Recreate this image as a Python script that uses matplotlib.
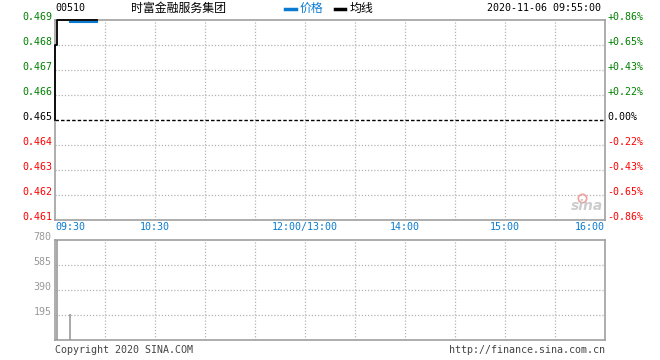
import matplotlib
matplotlib.use("Agg")
import matplotlib.pyplot as plt
import matplotlib.transforms as mtrans

plt.rcParams['font.family'] = ['DejaVu Sans Mono', 'Noto Sans CJK SC']

# data
code = "00510"
name = "时富金融服务集团"
stamp = "2020-11-06 09:55:00"
prev_close = 0.465
price_ticks = [0.461, 0.462, 0.463, 0.464, 0.465, 0.466, 0.467, 0.468, 0.469]
pct_labels = ["-0.86%", "-0.65%", "-0.43%", "-0.22%", "0.00%", "+0.22%", "+0.43%", "+0.65%", "+0.86%"]
time_ticks = [0, 60, 150, 210, 270, 330]
time_labels = ["09:30", "10:30", "12:00/13:00", "14:00", "15:00", "16:00"]
vol_ticks = [195, 390, 585, 780]

# minutes after 09:30
price_min = [9, 25]
price_val = [0.469, 0.469]
avg_min = [0, 0, 1, 1, 25]
avg_val = [0.465, 0.468, 0.468, 0.469, 0.469]
vol_min = [1, 9]
vol_val = [780, 200]

W, H = 660, 360
fig = plt.figure(figsize=(6.6, 3.6), dpi=100)
fig.patch.set_facecolor('white')

grey = '#a0a0a0'
green = '#008000'
red = '#ff0000'
blue = '#0a7bd0'
fs = 7.2

def box(x0, y0, x1, y1):
    return [x0 / W, 1 - y1 / H, (x1 - x0) / W, (y1 - y0) / H]

ax = fig.add_axes(box(55, 20, 605, 220))
ax.set_xlim(0, 330)
ax.set_ylim(0.461, 0.469)
for s in ax.spines.values():
    s.set_color(grey)
    s.set_linewidth(1.2)
ax.set_xticks([])
ax.set_yticks([])
for t in range(30, 330, 30):
    ax.axvline(t, color='#b4b4b4', lw=0.9, ls=(0, (1, 1.5)), zorder=1)
for v in price_ticks[1:-1]:
    if v == prev_close:
        ax.axhline(v, color='black', lw=1, ls=(0, (2.5, 1.5)), zorder=2)
    else:
        ax.axhline(v, color='#b4b4b4', lw=0.9, ls=(0, (1, 1.5)), zorder=1)

ax.plot(avg_min, avg_val, color='black', lw=1.3, zorder=4, clip_on=False)
down = mtrans.offset_copy(ax.transData, fig=fig, x=0, y=-1.4, units='points')
ax.plot(price_min, price_val, color=blue, lw=1.5, zorder=5, clip_on=False, transform=down)

lt = mtrans.blended_transform_factory(ax.transAxes, ax.transData)
lt = mtrans.offset_copy(lt, fig=fig, x=0, y=2.5, units='points')
for v, p in zip(price_ticks, pct_labels):
    c = green if v > prev_close else (red if v < prev_close else 'black')
    ax.text(-0.005, v, "%.3f" % v, transform=lt, ha='right', va='center', fontsize=fs, color=c)
    ax.text(1.004, v, p, transform=lt, ha='left', va='center', fontsize=fs, color=c)

for t, lab in zip(time_ticks, time_labels):
    ha = 'left' if t == 0 else ('right' if t == 330 else 'center')
    ax.text(t, -0.035, lab, transform=mtrans.blended_transform_factory(ax.transData, ax.transAxes),
            ha=ha, va='center', fontsize=fs, color=blue)

# sina watermark
ax.text(0.996, 0.07, "sina", transform=ax.transAxes, ha='right', va='center', fontsize=10,
        color='#c0c0c0', style='italic', fontweight='bold', family='DejaVu Sans', alpha=0.8)
ax.plot([0.958], [0.11], marker='o', ms=6, mfc='none', mec='#f0a0a0', mew=1.2,
        transform=ax.transAxes, zorder=1)

# volume panel
vx = fig.add_axes(box(55, 240, 605, 340))
vx.set_xlim(0, 330)
vx.set_ylim(0, 780)
for s in vx.spines.values():
    s.set_color(grey)
    s.set_linewidth(1.2)
vx.set_xticks([])
vx.set_yticks([])
for t in range(30, 330, 30):
    vx.axvline(t, color='#b4b4b4', lw=0.9, ls=(0, (1, 1.5)), zorder=1)
for v in vol_ticks[:-1]:
    vx.axhline(v, color='#b4b4b4', lw=0.9, ls=(0, (1, 1.5)), zorder=1)
vx.vlines(vol_min, 0, vol_val, color='#999999', lw=1.2, zorder=3)
vt = mtrans.blended_transform_factory(vx.transAxes, vx.transData)
vt = mtrans.offset_copy(vt, fig=fig, x=0, y=2.5, units='points')
for v in vol_ticks:
    vx.text(-0.006, v, str(v), transform=vt, ha='right', va='center', fontsize=fs, color='#999999')

# header / footer
fig.text(55 / W, 1 - 8 / H, code, ha='left', va='center', fontsize=fs, color='black')
fig.text(178 / W, 1 - 8 / H, name, ha='center', va='center', fontsize=8.6, color='black',
         family=['Noto Sans CJK SC', 'DejaVu Sans'])
fig.add_artist(plt.Line2D([285 / W, 296 / W], [1 - 9 / H, 1 - 9 / H], color=blue, lw=2.5))
fig.text(300 / W, 1 - 8 / H, "价格", ha='left', va='center', fontsize=8.6, color=blue,
         family=['Noto Sans CJK SC', 'DejaVu Sans'])
fig.add_artist(plt.Line2D([335 / W, 345 / W], [1 - 9 / H, 1 - 9 / H], color='black', lw=2.5))
fig.text(350 / W, 1 - 8 / H, "均线", ha='left', va='center', fontsize=8.6, color='black',
         family=['Noto Sans CJK SC', 'DejaVu Sans'])
fig.text(601 / W, 1 - 8 / H, stamp, ha='right', va='center', fontsize=fs, color='black')
fig.text(55 / W, 1 - 350 / H, "Copyright 2020 SINA.COM", ha='left', va='center', fontsize=fs, color='#444444')
fig.text(605 / W, 1 - 350 / H, "http://finance.sina.com.cn", ha='right', va='center', fontsize=fs, color='#444444')

fig.savefig("out.png", dpi=100)
